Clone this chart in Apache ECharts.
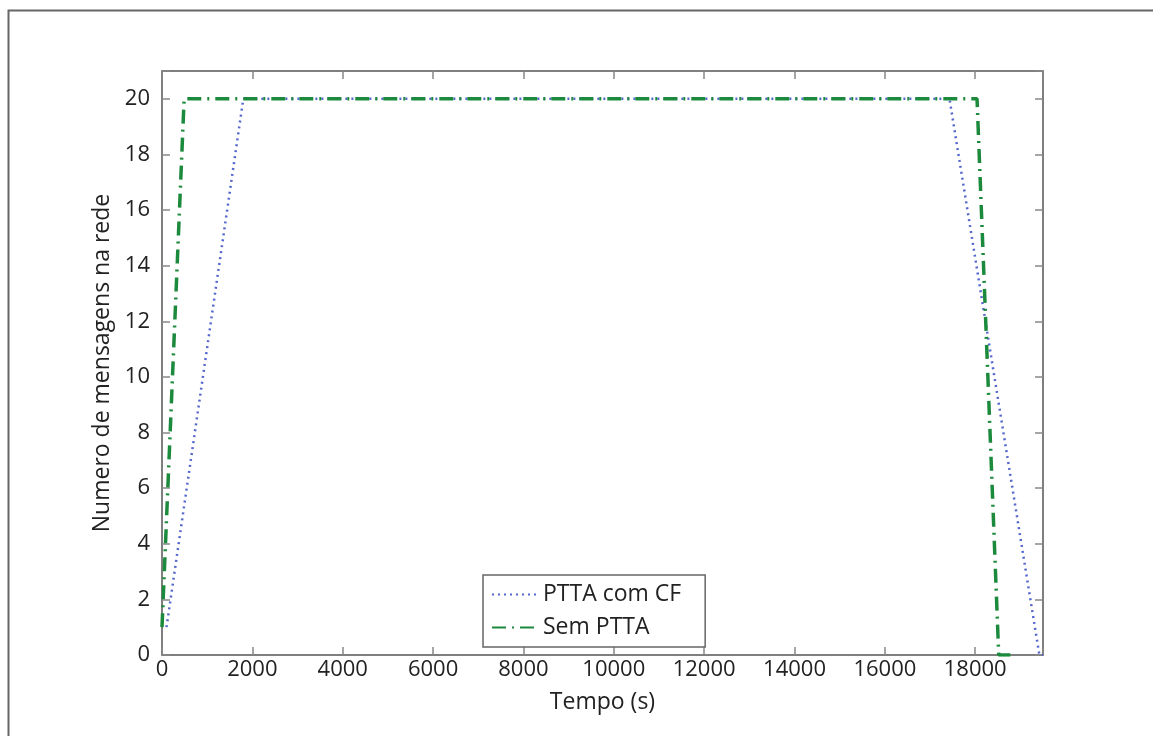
<!DOCTYPE html>
<html>
<head>
<meta charset="utf-8">
<script src="https://cdn.jsdelivr.net/npm/echarts@6/dist/echarts.min.js"></script>
<style>
  html, body { margin: 0; padding: 0; background: #fff; }
  #main { width: 1153px; height: 736px; }
</style>
</head>
<body>
<div id="main"></div>
<script>
// dados
var seriesNames = ['PTTA com CF', 'Sem PTTA'];
var pttaTime  = [100, 1800, 17430, 19420, 19500];
var pttaMsgs  = [1, 20, 20, 0, 0];
var semTime   = [0, 490, 18040, 18520, 18900];
var semMsgs   = [1, 20, 20, 0, 0];
var xTicks = [0, 2000, 4000, 6000, 8000, 10000, 12000, 14000, 16000, 18000];
var yTicks = [0, 2, 4, 6, 8, 10, 12, 14, 16, 18, 20];

function pairs(xs, ys) {
    return xs.map(function (x, i) { return [x, ys[i]]; });
}

var font = 'Open Sans', axisColor = '#555';
var myChart = echarts.init(document.getElementById('main'));

var baseX = {
    type: 'value', min: 0, max: 19500, interval: 2000,
    axisLine: { show: true, onZero: false, lineStyle: { color: axisColor, width: 1.5 } },
    axisTick: { show: true, inside: true, length: 8, lineStyle: { color: '#888', width: 1.5 } },
    splitLine: { show: false }
};
var baseY = {
    type: 'value', min: 0, max: 21, interval: 2,
    axisLine: { show: true, onZero: false, lineStyle: { color: axisColor, width: 1.5 } },
    axisTick: { show: true, inside: true, length: 8, lineStyle: { color: '#888', width: 1.5 } },
    splitLine: { show: false }
};

var option = {
    backgroundColor: '#fff',
    animation: false,
    graphic: [{
        type: 'rect', left: 6, top: 8,
        shape: { width: 1160, height: 740 },
        style: { fill: 'none', stroke: '#666', lineWidth: 2 }
    }],
    grid: { left: 162, top: 71, right: 110, bottom: 81, containLabel: false },
    xAxis: [
        Object.assign({}, baseX, {
            position: 'bottom',
            name: 'Tempo (s)', nameLocation: 'middle', nameGap: 36,
            nameTextStyle: { fontFamily: font, fontSize: 23, color: '#222' },
            axisLabel: {
                fontFamily: font, fontSize: 22, color: '#222', margin: 4,
                formatter: function (v) { return xTicks.indexOf(v) >= 0 ? String(v) : ''; }
            }
        }),
        Object.assign({}, baseX, { position: 'top', axisLabel: { show: false } })
    ],
    yAxis: [
        Object.assign({}, baseY, {
            position: 'left',
            name: 'Numero de mensagens na rede', nameLocation: 'middle', nameGap: 42,
            nameTextStyle: { fontFamily: font, fontSize: 23, color: '#222' },
            axisLabel: {
                fontFamily: font, fontSize: 22, color: '#222', margin: 12,
                formatter: function (v) { return yTicks.indexOf(v) >= 0 ? String(v) : ''; }
            }
        }),
        Object.assign({}, baseY, { position: 'right', axisLabel: { show: false } })
    ],
    legend: {
        data: seriesNames, orient: 'vertical', left: 483, top: 575,
        padding: [8, 24, 8, 8], itemGap: 10, itemWidth: 48, itemHeight: 16,
        borderColor: '#666', borderWidth: 1.5, backgroundColor: '#fff',
        itemStyle: { opacity: 0 },
        textStyle: { fontFamily: font, fontSize: 23, color: '#222', padding: [0, 0, 0, -2] }
    },
    series: [{
        name: seriesNames[0], type: 'line', showSymbol: false, symbol: 'none',
        data: pairs(pttaTime, pttaMsgs),
        itemStyle: { color: '#5566cc' },
        lineStyle: { color: '#5566cc', width: 2.5, type: [2, 4] }
    }, {
        name: seriesNames[1], type: 'line', showSymbol: false, symbol: 'none',
        data: pairs(semTime, semMsgs),
        itemStyle: { color: '#1c8a3c' },
        lineStyle: { color: '#1c8a3c', width: 3.5, type: [14, 6, 2, 6] }
    }]
};

myChart.setOption(option);
</script>
</body>
</html>
